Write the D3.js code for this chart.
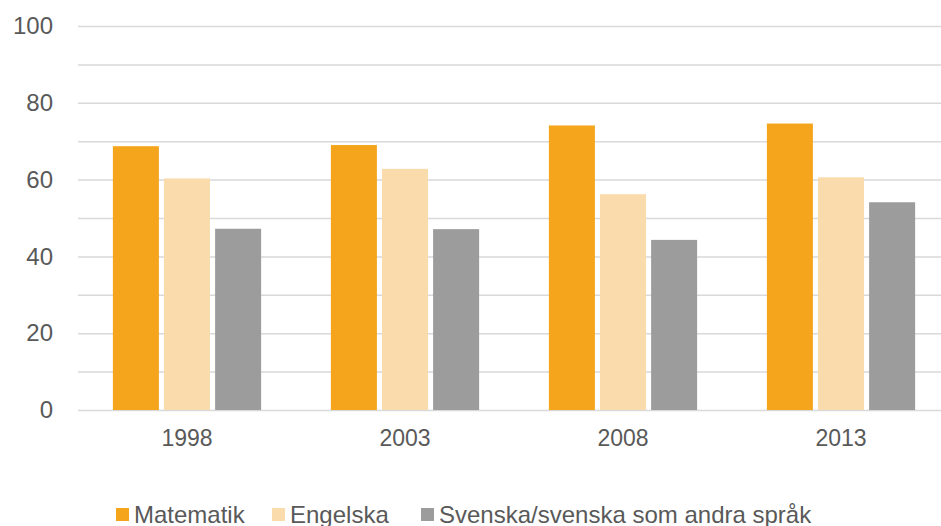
<!DOCTYPE html>
<html>
<head>
<meta charset="utf-8">
<script src="https://cdn.jsdelivr.net/npm/d3@7"></script>
<style>
  body { margin: 0; background: #fff; }
  text { font-family: "Liberation Sans", Arial, sans-serif; fill: #595959; }
</style>
</head>
<body>
<script>
// data
var years = ["1998", "2003", "2008", "2013"];
var subjects = ["Matematik", "Engelska", "Svenska/svenska som andra språk"];
var matematik = [68.7, 69.0, 74.1, 74.6];
var engelska = [60.3, 62.8, 56.2, 60.6];
var svenska = [47.2, 47.1, 44.3, 54.1];
var yTicks = [0, 20, 40, 60, 80, 100];

var colors = ["#F4A51B", "#FADBAC", "#9C9C9C"];
var series = [matematik, engelska, svenska];

var w = 941, h = 526;
var padLeft = 78, padRight = 950, padTop = 26, padBottom = 410;

var svg = d3.select("body").append("svg")
    .attr("width", w)
    .attr("height", h);

var yScale = d3.scaleLinear()
    .domain([0, 100])
    .range([padBottom, padTop]);

var x0 = d3.scaleBand()
    .domain(years)
    .range([padLeft, padRight])
    .paddingInner(0.32)
    .paddingOuter(0.16);

var x1 = d3.scaleBand()
    .domain(d3.range(subjects.length))
    .range([0, x0.bandwidth()])
    .paddingInner(0.1);

// gridlines every 10
svg.append("g")
    .selectAll("line")
    .data(d3.range(0, 101, 10))
    .enter().append("line")
    .attr("x1", padLeft)
    .attr("x2", w)
    .attr("y1", function (d) { return yScale(d) + 0.5 })
    .attr("y2", function (d) { return yScale(d) + 0.5 })
    .attr("stroke", "#D9D9D9")
    .attr("stroke-width", 1.5);

// y axis labels
var yAxis = d3.axisLeft(yScale)
    .tickValues(yTicks)
    .tickSize(0)
    .tickPadding(0);
svg.append("g")
    .attr("class", "axisy")
    .attr("transform", "translate(53,0)")
    .call(yAxis)
    .call(function (g) { g.select(".domain").remove() })
    .selectAll("text")
    .attr("font-size", 24)
    .attr("font-family", "Liberation Sans, Arial, sans-serif")
    .style("fill", "#595959");

// bars
var groups = svg.append("g")
    .selectAll("g")
    .data(years)
    .enter().append("g")
    .attr("transform", function (d) { return "translate(" + x0(d) + ",0)" });

groups.selectAll("rect")
    .data(function (d, i) {
        return series.map(function (s, k) { return {k: k, v: s[i]} })
    })
    .enter().append("rect")
    .attr("x", function (d) { return x1(d.k) })
    .attr("width", x1.bandwidth())
    .attr("y", function (d) { return yScale(d.v) })
    .attr("height", function (d) { return padBottom - yScale(d.v) })
    .attr("fill", function (d) { return colors[d.k] });

// x axis labels
var xAxis = d3.axisBottom(x0)
    .tickSize(0)
    .tickPadding(20);
svg.append("g")
    .attr("class", "axis")
    .attr("transform", "translate(0," + padBottom + ")")
    .call(xAxis)
    .call(function (g) { g.select(".domain").remove() })
    .selectAll("text")
    .attr("font-size", 23)
    .attr("font-family", "Liberation Sans, Arial, sans-serif")
    .style("fill", "#595959");

// legend
var legendX = [116, 272, 421];
var legend = svg.append("g")
    .selectAll("g")
    .data(subjects)
    .enter().append("g")
    .attr("transform", function (d, i) { return "translate(" + legendX[i] + ",0)" });

legend.append("rect")
    .attr("y", 508)
    .attr("width", 13)
    .attr("height", 13)
    .attr("fill", function (d, i) { return colors[i] });

legend.append("text")
    .attr("x", 18)
    .attr("y", 523)
    .attr("font-size", 24)
    .text(function (d) { return d });
</script>
</body>
</html>
